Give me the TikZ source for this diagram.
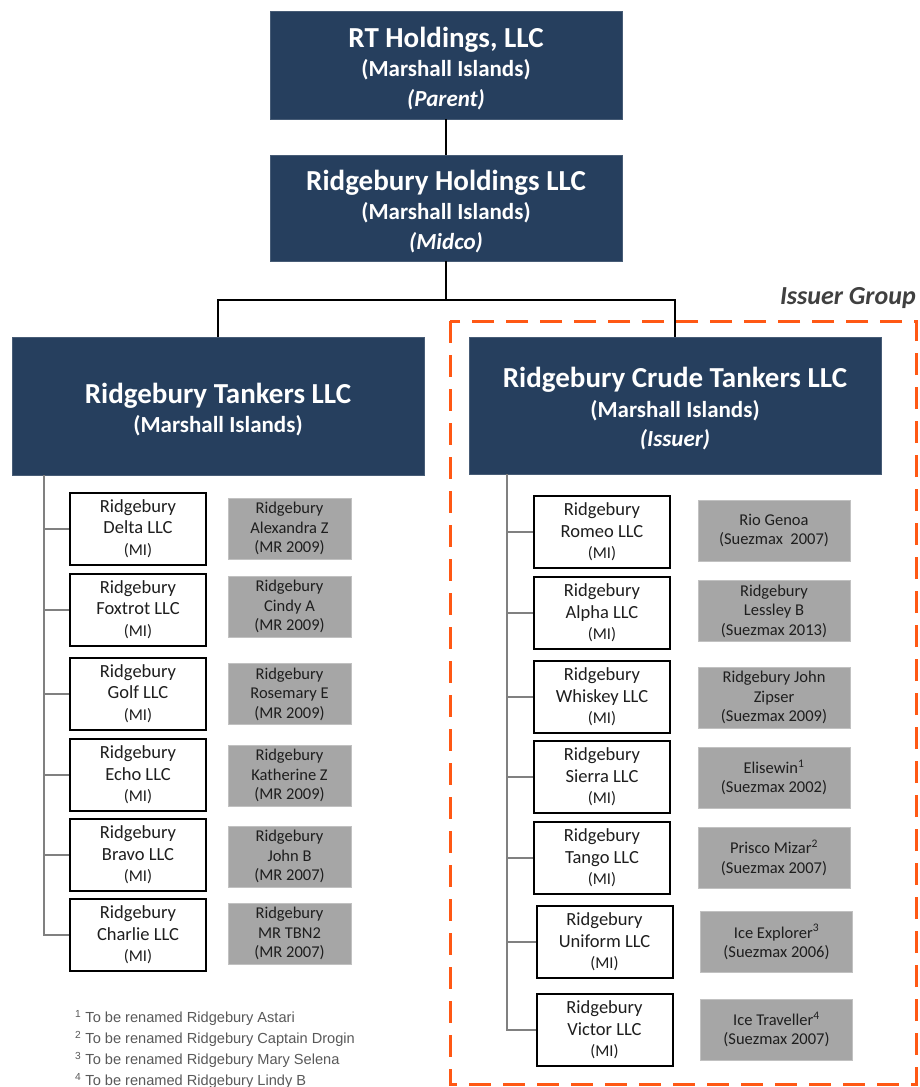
\documentclass[tikz,border=0pt]{standalone}
\usepackage{fontspec}
\setmainfont{Carlito}
\newfontfamily\arialf{Liberation Sans}
\definecolor{navy}{RGB}{38,63,94}
\definecolor{boxgray}{RGB}{166,166,166}
\definecolor{orng}{RGB}{255,88,20}
\definecolor{treegray}{RGB}{128,128,128}
\definecolor{txt}{RGB}{30,30,30}
\definecolor{fnote}{RGB}{89,89,89}
\definecolor{iglabel}{RGB}{64,64,64}
\tikzset{
  navybox/.style={fill=navy, draw=navy!85!white, line width=0.8pt, text=white, align=center, inner sep=0pt,
     font=\bfseries\fontsize{23}{29.5}\selectfont},
  wbox/.style={draw=black, line width=2pt, fill=white, minimum width=136, minimum height=72, inner sep=0pt,
     align=center, text=txt, font=\fontsize{18.5}{21.5}\selectfont},
  gbox/.style={fill=boxgray, draw=boxgray!70!white, line width=0.8pt, minimum width=123, minimum height=61, inner sep=0pt,
     align=center, text=txt, font=\fontsize{16.5}{19.5}\selectfont},
  gboxw/.style={gbox, minimum width=152},
  link/.style={draw=black, line width=1.3pt},
  tree/.style={draw=treegray, line width=2pt},
  fn/.style={anchor=west, inner sep=0pt, text=fnote, font=\arialf\fontsize{14.6}{16}\selectfont},
}
\newcommand{\mi}{{\fontsize{16.5}{18}\selectfont (MI)}}
\newcommand{\ttl}[1]{{\fontsize{29}{34}\selectfont\rule{0pt}{27pt}#1}}
\begin{document}
\begin{tikzpicture}[x=1pt,y=-1pt]
\useasboundingbox (0,0) rectangle (919,1087);
\fill[white] (0,0) rectangle (919,1087);

% top hierarchy
\node[navybox, minimum width=352, minimum height=108] (rt) at (446,65)
  {\ttl{RT Holdings, LLC}\\ (Marshall Islands)\\ \textit{(Parent)}};
\node[navybox, minimum width=352, minimum height=106] (midco) at (446,208)
  {\ttl{Ridgebury Holdings LLC}\\ (Marshall Islands)\\ \textit{(Midco)}};
\node[navybox, minimum width=412, minimum height=138] (tankers) at (218,406)
  {\ttl{Ridgebury Tankers LLC}\\ (Marshall Islands)};
\node[navybox, minimum width=412, minimum height=137] (crude) at (675,405.5)
  {\ttl{Ridgebury Crude Tankers LLC}\\ (Marshall Islands)\\ \textit{(Issuer)}};

\coordinate (split) at (446,300);
\draw[link] (rt) -- (midco);
\draw[link] (midco) -- (split);
\draw[link] (split) -| (tankers);
\draw[link] (split) -| (crude);

% issuer group
\draw[orng, line width=3pt, dash pattern=on 22pt off 12pt] (450,321) rectangle (916,1084);
\node[anchor=east, inner sep=0pt, text=iglabel, font=\bfseries\itshape\fontsize{26}{30}\selectfont] (ig) at (916,298) {Issuer Group};

% left subsidiaries
\node[wbox] (delta)   at (138,528.5) {Ridgebury\\Delta LLC\\\mi};
\node[wbox] (foxtrot) at (138,609.5) {Ridgebury\\Foxtrot LLC\\\mi};
\node[wbox] (golf)    at (138,693.5) {Ridgebury\\Golf LLC\\\mi};
\node[wbox] (echo)    at (138,775)   {Ridgebury\\Echo LLC\\\mi};
\node[wbox] (bravo)   at (138,855)   {Ridgebury\\Bravo LLC\\\mi};
\node[wbox] (charlie) at (138,935)   {Ridgebury\\Charlie LLC\\\mi};

\node[gbox] (alexandra) at (289.5,528.5) {Ridgebury\\Alexandra Z\\(MR 2009)};
\node[gbox] (cindy)     at (289.5,606.5) {Ridgebury\\Cindy A\\(MR 2009)};
\node[gbox] (rosemary)  at (289.5,694)   {Ridgebury\\Rosemary E\\(MR 2009)};
\node[gbox] (katherine) at (289.5,775.5) {Ridgebury\\Katherine Z\\(MR 2009)};
\node[gbox] (johnb)     at (289.5,856.5) {Ridgebury\\John B\\(MR 2007)};
\node[gbox] (tbn)       at (289.5,933.5) {Ridgebury\\MR TBN2\\(MR 2007)};

\coordinate (ltrunk) at (44,475);
\foreach \n in {delta,foxtrot,golf,echo,bravo,charlie}
  \draw[tree] (ltrunk) |- (\n.west);

% right subsidiaries
\node[wbox] (romeo)   at (602,532)   {Ridgebury\\Romeo LLC\\\mi};
\node[wbox] (alpha)   at (602,613)   {Ridgebury\\Alpha LLC\\\mi};
\node[wbox] (whiskey) at (602,697)   {Ridgebury\\Whiskey LLC\\\mi};
\node[wbox] (sierra)  at (602,777)   {Ridgebury\\Sierra LLC\\\mi};
\node[wbox] (tango)   at (602,858)   {Ridgebury\\Tango LLC\\\mi};
\node[wbox] (uniform) at (604.5,942) {Ridgebury\\Uniform LLC\\\mi};
\node[wbox] (victor)  at (604.5,1030){Ridgebury\\Victor LLC\\\mi};

\node[gboxw] (rio)      at (774,530.5)   {Rio Genoa\\(Suezmax\ \ 2007)};
\node[gboxw] (lessley)  at (774,611)     {Ridgebury\\Lessley B\\(Suezmax 2013)};
\node[gboxw] (zipser)   at (774,697.5)   {Ridgebury John\\Zipser\\(Suezmax 2009)};
\node[gboxw] (elisewin) at (774,777.5)   {Elisewin\textsuperscript{1}\\(Suezmax 2002)};
\node[gboxw] (prisco)   at (774,857.5)   {Prisco Mizar\textsuperscript{2}\\(Suezmax 2007)};
\node[gboxw] (explorer) at (776.5,942)   {Ice Explorer\textsuperscript{3}\\(Suezmax 2006)};
\node[gboxw] (traveller)at (776.5,1029.5){Ice Traveller\textsuperscript{4}\\(Suezmax 2007)};

\coordinate (rtrunk) at (507,474);
\foreach \n in {romeo,alpha,whiskey,sierra,tango,uniform,victor}
  \draw[tree] (rtrunk) |- (\n.west);

% footnotes
\node[fn] (fn1) at (75,1018) {\textsuperscript{1} To be renamed Ridgebury Astari};
\node[fn] (fn2) at (75,1039) {\textsuperscript{2} To be renamed Ridgebury Captain Drogin};
\node[fn] (fn3) at (75,1060) {\textsuperscript{3} To be renamed Ridgebury Mary Selena};
\node[fn] (fn4) at (75,1081) {\textsuperscript{4} To be renamed Ridgebury Lindy B};
\end{tikzpicture}
\end{document}
